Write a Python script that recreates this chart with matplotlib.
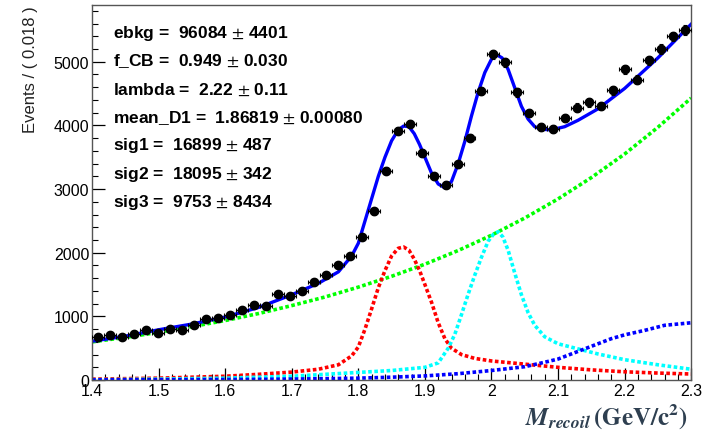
import matplotlib.pyplot as plt
import numpy as np
from matplotlib.ticker import MultipleLocator

plt.rcParams['font.family'] = ['Liberation Sans', 'DejaVu Sans']
plt.rcParams['mathtext.fontset'] = 'stix'

# binned data, bin width 0.018
x_data = np.round(np.arange(1.409, 2.3, 0.018), 3)
events = [680, 710, 680, 720, 790, 740, 800, 790, 870, 960,
          970, 1020, 1100, 1180, 1170, 1350, 1320, 1400, 1540, 1650,
          1800, 1950, 2240, 2650, 3290, 3920, 4020, 3570, 3200, 3070,
          3390, 3810, 4540, 5120, 4990, 4520, 4190, 3980, 3940, 4120,
          4280, 4360, 4300, 4550, 4880, 4720, 5020, 5200, 5400, 5500]

# total fit
x_tot = [1.40, 1.45, 1.50, 1.55, 1.60, 1.65, 1.70, 1.74, 1.77, 1.79, 1.80, 1.81,
         1.82, 1.83, 1.84, 1.85, 1.86, 1.868, 1.876, 1.884, 1.892, 1.900, 1.910,
         1.920, 1.930, 1.940, 1.950, 1.960, 1.970, 1.980, 1.990, 2.000, 2.008,
         2.016, 2.025, 2.035, 2.045, 2.055, 2.065, 2.075, 2.09, 2.11, 2.13, 2.16,
         2.20, 2.25, 2.30]
y_tot = [610, 690, 790, 880, 990, 1140, 1340, 1520, 1700, 1950, 2150, 2500,
         2850, 3200, 3500, 3760, 3930, 3990, 3980, 3870, 3700, 3500, 3250,
         3080, 3020, 3120, 3400, 3750, 4150, 4520, 4830, 5040, 5110,
         5060, 4880, 4590, 4300, 4100, 3980, 3940, 3930, 3980, 4080, 4260,
         4580, 5060, 5590]

# background (green)
x_bkg = [1.40, 1.45, 1.50, 1.55, 1.60, 1.65, 1.70, 1.75, 1.80, 1.85, 1.90, 1.95,
         2.00, 2.05, 2.10, 2.15, 2.20, 2.25, 2.30]
y_bkg = [600, 670, 750, 840, 935, 1045, 1170, 1305, 1460, 1630, 1820, 2035,
         2275, 2545, 2845, 3180, 3550, 3970, 4430]

# sig1 (red)
x_sig1 = [1.40, 1.50, 1.60, 1.65, 1.70, 1.74, 1.77, 1.79, 1.80, 1.81, 1.82, 1.83,
          1.84, 1.85, 1.86, 1.868, 1.876, 1.884, 1.892, 1.900, 1.910, 1.920,
          1.930, 1.940, 1.955, 1.975, 2.00, 2.05, 2.10, 2.15, 2.20, 2.25, 2.30]
y_sig1 = [15, 30, 60, 90, 125, 170, 240, 380, 520, 800, 1120, 1450,
          1720, 1950, 2070, 2090, 2040, 1900, 1720, 1500, 1220, 900,
          650, 500, 400, 340, 300, 250, 200, 160, 130, 110, 95]

# sig2 (cyan)
x_sig2 = [1.40, 1.50, 1.60, 1.70, 1.80, 1.85, 1.90, 1.92, 1.935, 1.945, 1.955,
          1.965, 1.975, 1.985, 1.995, 2.003, 2.010, 2.017, 2.025, 2.035, 2.045,
          2.055, 2.065, 2.08, 2.10, 2.13, 2.16, 2.20, 2.25, 2.30]
y_sig2 = [5, 15, 30, 60, 120, 150, 200, 270, 500, 720, 1030,
          1350, 1650, 1930, 2180, 2290, 2330, 2250, 2040, 1680, 1340,
          1060, 860, 680, 570, 490, 410, 320, 240, 170]

# sig3 (blue dotted)
x_sig3 = [1.40, 1.50, 1.60, 1.70, 1.80, 1.85, 1.90, 1.95, 2.00, 2.05, 2.08, 2.10,
          2.13, 2.15, 2.18, 2.20, 2.23, 2.26, 2.30]
y_sig3 = [3, 5, 8, 15, 30, 45, 65, 100, 150, 210, 280, 330,
          450, 530, 650, 710, 780, 860, 900]

params = ["ebkg =  96084 $\\pm$ 4401",
          "f_CB =  0.949 $\\pm$ 0.030",
          "lambda =  2.22 $\\pm$ 0.11",
          "mean_D1 =  1.86819 $\\pm$ 0.00080",
          "sig1 =  16899 $\\pm$ 487",
          "sig2 =  18095 $\\pm$ 342",
          "sig3 =  9753 $\\pm$ 8434"]

fig = plt.figure(figsize=(7.14, 4.35), dpi=100)
ax = fig.add_axes([0.129, 0.124, 0.839, 0.862])

dots = (0, (1, 0.7))
ax.plot(x_bkg, y_bkg, color='#00ff00', lw=2.6, ls=dots)
ax.plot(x_sig1, y_sig1, color='#ff0000', lw=2.6, ls=dots)
ax.plot(x_sig2, y_sig2, color='#00ffff', lw=2.6, ls=dots)
ax.plot(x_sig3, y_sig3, color='#0000ff', lw=2.6, ls=dots)
ax.plot(x_tot, y_tot, color='#0000ff', lw=2.4)
ax.errorbar(x_data, events, xerr=0.009, yerr=np.sqrt(events), fmt='o',
            color='black', ms=6, elinewidth=0.8, capsize=1.5, capthick=0.8, zorder=5)

ax.set_xlim(1.4, 2.3)
ax.set_ylim(0, 5890)
ax.xaxis.set_major_locator(MultipleLocator(0.1))
ax.xaxis.set_minor_locator(MultipleLocator(0.02))
ax.yaxis.set_major_locator(MultipleLocator(1000))
ax.yaxis.set_minor_locator(MultipleLocator(200))
ax.tick_params(which='both', direction='in', top=False, right=False, labelsize=11.5)
ax.tick_params(which='major', length=9, width=0.9, pad=2)
ax.tick_params(which='minor', length=4.5, width=0.8)
ax.set_xticks(np.arange(1.4, 2.31, 0.1))
ax.set_xticklabels(['1.4', '1.5', '1.6', '1.7', '1.8', '1.9', '2', '2.1', '2.2', '2.3'])
for s in ax.spines.values():
    s.set_color('#555555')
    s.set_linewidth(1.0)

ax.set_ylabel('Events / ( 0.018 )', fontsize=12, color='#222222', loc='top')
ax.yaxis.set_label_coords(-0.09, 1.0)

fig.text(0.963, 0.04, r'$\mathbfit{M}_{\mathbfit{recoil}}\,\mathbf{(GeV/c^{2})}$',
         ha='right', va='center', fontsize=18, color='#2e3f50')

for i, p in enumerate(params):
    ax.text(0.035, (381 - 33 - i * 28.2) / 375, p, transform=ax.transAxes,
            fontsize=12.5, fontweight='bold', va='center', ha='left')

plt.savefig('out.png', dpi=100)
